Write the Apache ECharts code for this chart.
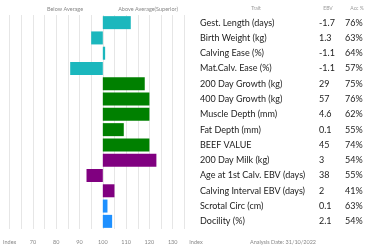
<!DOCTYPE html>
<html><head><meta charset="utf-8">
<script src="https://cdn.jsdelivr.net/npm/echarts@6/dist/echarts.min.js"></script>
<style>html,body{margin:0;padding:0;background:#fff}#c{width:382px;height:252px}</style>
</head><body><div id="c"></div>
<script>
var traits = ["Gest. Length (days)","Birth Weight (kg)","Calving Ease (%)","Mat.Calv. Ease (%)","200 Day Growth (kg)","400 Day Growth (kg)","Muscle Depth (mm)","Fat Depth (mm)","BEEF VALUE","200 Day Milk (kg)","Age at 1st Calv. EBV (days)","Calving Interval EBV (days)","Scrotal Circ (cm)","Docility (%)"];
var indexValues = [112, 95, 101, 86, 118, 120, 120, 109, 120, 123, 93, 105, 102, 104];
var ebv = ["-1.7","1.3","-1.1","-1.1","29","57","4.6","0.1","45","3","38","2","0.1","2.1"];
var acc = ["76%","63%","64%","57%","75%","76%","62%","55%","74%","54%","55%","41%","63%","54%"];
var groups = ["calving","calving","calving","calving","growth","growth","growth","growth","growth","maternal","maternal","maternal","other","other"];
var xTicks = [60,70,80,90,100,110,120,130,140];
var baseline = 100;

var groupColor = {calving:"#1bb7bd", growth:"#008000", maternal:"#800080", other:"#1e90ff"};
var font = "Lato";
var chart = echarts.init(document.getElementById('c'));
var lineColors = [];
for (var i = 0; i <= 16; i++) lineColors.push(i === 16 ? 'rgba(0,0,0,0)' : '#e6e6e6');
chart.setOption({
  animation:false,
  grid:{left:6,right:186,top:15,bottom:23,containLabel:false},
  xAxis:{type:'value',min:xTicks[0]-baseline,max:xTicks[xTicks.length-1]-baseline,interval:5,
    axisLine:{show:false},axisTick:{show:false},
    splitLine:{show:true,lineStyle:{color:lineColors,width:1}},
    axisLabel:{fontSize:5.5,color:'#888',fontFamily:font,margin:10,
      formatter:function(v){var x=v+baseline; if(x===xTicks[0]||x===xTicks[xTicks.length-1]) return 'Index'; return xTicks.indexOf(x)>=0? String(x):'';}}},
  yAxis:{type:'category',data:traits,inverse:true,position:'right',
    axisLine:{show:false},axisTick:{show:false},splitLine:{show:false},
    axisLabel:{align:'left',margin:4,fontFamily:font,interval:0,hideOverlap:false,
      formatter:function(v,i){return '{t|'+v+'}{e|'+ebv[i]+'}{a|'+acc[i]+'}';},
      rich:{t:{width:119,fontSize:9,color:'#222',fontFamily:font},
            e:{width:26,fontSize:9,color:'#222',fontFamily:font},
            a:{width:30,fontSize:9,color:'#222',fontFamily:font}}}},
  series:[{type:'bar',barWidth:13,
    data:indexValues.map(function(v,i){return {value:v-baseline,itemStyle:{color:groupColor[groups[i]]}};})}],
  graphic:[
    {type:'text',x:65,y:9,style:{text:'Below Average',fontSize:5.5,fill:'#888',fontFamily:font,align:'center',verticalAlign:'middle'}},
    {type:'text',x:148,y:9,style:{text:'Above Average(Superior)',fontSize:5.5,fill:'#888',fontFamily:font,align:'center',verticalAlign:'middle'}},
    {type:'text',x:256,y:8,style:{text:'Trait',fontSize:5,fill:'#999',fontFamily:font,align:'center',verticalAlign:'middle'}},
    {type:'text',x:328,y:8,style:{text:'EBV',fontSize:5,fill:'#999',fontFamily:font,align:'center',verticalAlign:'middle'}},
    {type:'text',x:357,y:8,style:{text:'Acc %',fontSize:5,fill:'#999',fontFamily:font,align:'center',verticalAlign:'middle'}},
    {type:'text',x:283,y:242,style:{text:'Analysis Date: 31/10/2022',fontSize:5.5,fill:'#888',fontFamily:font,align:'center',verticalAlign:'middle'}}
  ]
});
</script></body></html>
